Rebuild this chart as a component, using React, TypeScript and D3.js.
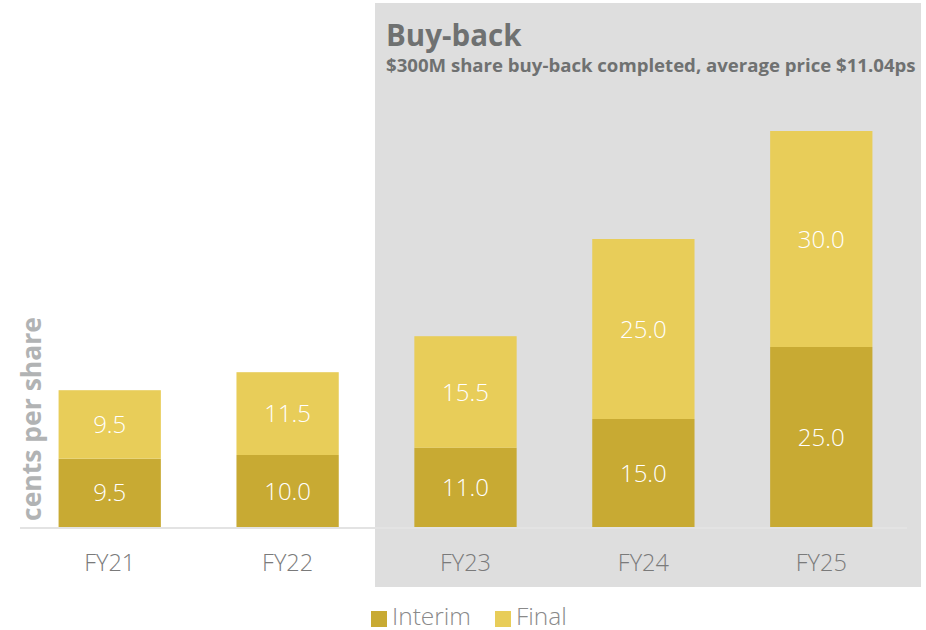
import React from 'react';
import * as d3 from 'd3';

const years = ['FY21', 'FY22', 'FY23', 'FY24', 'FY25'];
const interim = [9.5, 10.0, 11.0, 15.0, 25.0];
const final = [9.5, 11.5, 15.5, 25.0, 30.0];
const seriesNames = ['Interim', 'Final'];
const seriesColors = ['#c8aa33', '#e8cd59'];

const W = 926, H = 630;
const font = '"Open Sans", sans-serif';

export default function App() {
  const x = d3.scaleBand().domain(years).range([23, 908]).paddingInner(0.425).paddingOuter(0.2);
  const y = d3.scaleLinear().domain([0, 55]).range([527, 131]);

  const rows = years.map((yr, i) => ({ year: yr, Interim: interim[i], Final: final[i] }));
  const stack = d3.stack<any>().keys(seriesNames)(rows);

  return (
    <svg width={W} height={H} style={{ position: 'absolute', left: 0, top: 0 }} fontFamily={font}>
      <rect x={375} y={3} width={546} height={584} fill="#dedede" />
      <text x={386} y={46} fontSize={29.5} fontWeight={700} fill="#6f7171">Buy-back</text>
      <text x={386} y={72} fontSize={18.6} fontWeight={700} fill="#6f7171">
        $300M share buy-back completed, average price $11.04ps
      </text>

      {stack.map((s, si) => (
        <g key={s.key}>
          {s.map((d, i) => (
            <g key={i}>
              <rect x={x(years[i])} y={y(d[1])} width={x.bandwidth()} height={y(d[0]) - y(d[1])} fill={seriesColors[si]} />
              <text x={(x(years[i]) as number) + x.bandwidth() / 2} y={(y(d[0]) + y(d[1])) / 2}
                dy="0.36em" textAnchor="middle" fontSize={24} fontWeight={300} fill="#fff">
                {(d[1] - d[0]).toFixed(1)}
              </text>
            </g>
          ))}
        </g>
      ))}

      <line x1={20} x2={907} y1={528} y2={528} stroke="#e3e3e3" strokeWidth={2} />

      {years.map(yr => (
        <text key={yr} x={(x(yr) as number) + x.bandwidth() / 2} y={571} textAnchor="middle" fontSize={23.5} fontWeight={300} fill="#7a7a7a">{yr}</text>
      ))}

      <text transform="translate(41,419) rotate(-90)" textAnchor="middle" fontSize={26.5} fontWeight={700} fill="#b1b3b4">cents per share</text>

      {seriesNames.map((n, i) => {
        const lx = i === 0 ? 371 : 495;
        return (
          <g key={n}>
            <rect x={lx} y={611} width={16} height={16} fill={seriesColors[i]} />
            <text x={lx + 21} y={625} fontSize={24.5} fontWeight={300} fill="#8a8a8a">{n}</text>
          </g>
        );
      })}
    </svg>
  );
}
